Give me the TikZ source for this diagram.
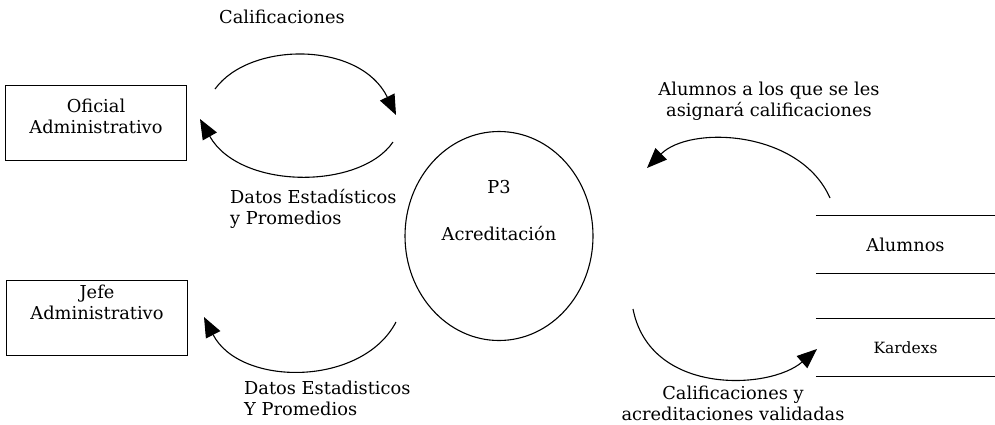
\documentclass[tikz,border=0pt]{standalone}
\usepackage{fontspec}
\setmainfont{DejaVu Serif}
\usetikzlibrary{positioning,arrows.meta,shapes.geometric}

\begin{document}
\begin{tikzpicture}[
    x=1pt, y=-1pt,
    font=\fontsize{17.8}{21}\selectfont,
    entitynode/.style={rectangle, draw=black, line width=1pt, minimum width=181pt, minimum height=75pt, align=center},
    processnode/.style={ellipse, draw=black, line width=1.1pt, minimum width=188pt, minimum height=209pt},
    storenode/.style={minimum width=179pt, minimum height=57pt, inner sep=0pt},
    storeline/.style={draw=black, line width=1.2pt},
    labelnode/.style={align=center, inner sep=0pt},
    flow/.style={->, >={Triangle[length=20pt, width=16pt]}, draw=black, line width=1.1pt}
    ]
        \useasboundingbox (0,0) rectangle (995,424);

        %Nodes
        \node[entitynode]
            (oficial)   at (96,123)     {Oficial\\Administrativo\\[-8pt]\mbox{}};
        \node[entitynode]
            (jefe)      at (97,317.5)   {Jefe\\Administrativo\\[9pt]\mbox{}};
        \node[processnode]
            (proc)      at (499,236)    {};
        \node
            (p3)        at (499,187)    {P3};
        \node
            (acred)     at (499,233)    {Acreditación};
        \node[storenode]
            (alumnos)   at (905.5,244.5) {Alumnos};
        \node[storenode, font=\fontsize{15.5}{18}\selectfont]
            (kardex)    at (905.5,347.5) {Kardexs};

        %Labels
        \node[labelnode]
            (calif)     at (282,17)     {Calificaciones};
        \node[labelnode, align=left, anchor=west]
            (datosof)   at (230,209)    {Datos Estadísticos\\y Promedios};
        \node[labelnode, align=left, anchor=west]
            (datosjefe) at (244,398)    {Datos Estadisticos\\Y Promedios};
        \node[labelnode]
            (asigna)    at (769,101)    {Alumnos a los que se les\\asignará calificaciones};
        \node[labelnode]
            (valida)    at (733,403)    {Calificaciones y\\acreditaciones validadas};

        %Flow ends
        \coordinate (califS)  at (215,89);
        \coordinate (califE)  at (396,115);
        \coordinate (datosofS) at (393,142);
        \coordinate (datosofE) at (200,119);
        \coordinate (datosjS) at (396,322);
        \coordinate (datosjE) at (204,317);
        \coordinate (asignaS) at (830,198);
        \coordinate (asignaE) at (647,168);
        \coordinate (validaS) at (633,309);
        \coordinate (validaE) at (817,349);

        %Store lines
        \draw[storeline] (alumnos.north west) -- (alumnos.north east);
        \draw[storeline] (alumnos.south west) -- (alumnos.south east);
        \draw[storeline] (kardex.north west) -- (kardex.north east);
        \draw[storeline] (kardex.south west) -- (kardex.south east);

        %Lines
        \draw[flow]
            (califS) .. controls (250,41) and (360,41) .. (califE);
        \draw[flow]
            (datosofS) .. controls (360,190) and (240,190) .. (datosofE);
        \draw[flow]
            (datosjS) .. controls (362,387) and (240,387) .. (datosjE);
        \draw[flow]
            (asignaS) .. controls (800,130) and (690,125) .. (asignaE);
        \draw[flow]
            (validaS) .. controls (650,396) and (770,390) .. (validaE);
    \end{tikzpicture}
\end{document}
